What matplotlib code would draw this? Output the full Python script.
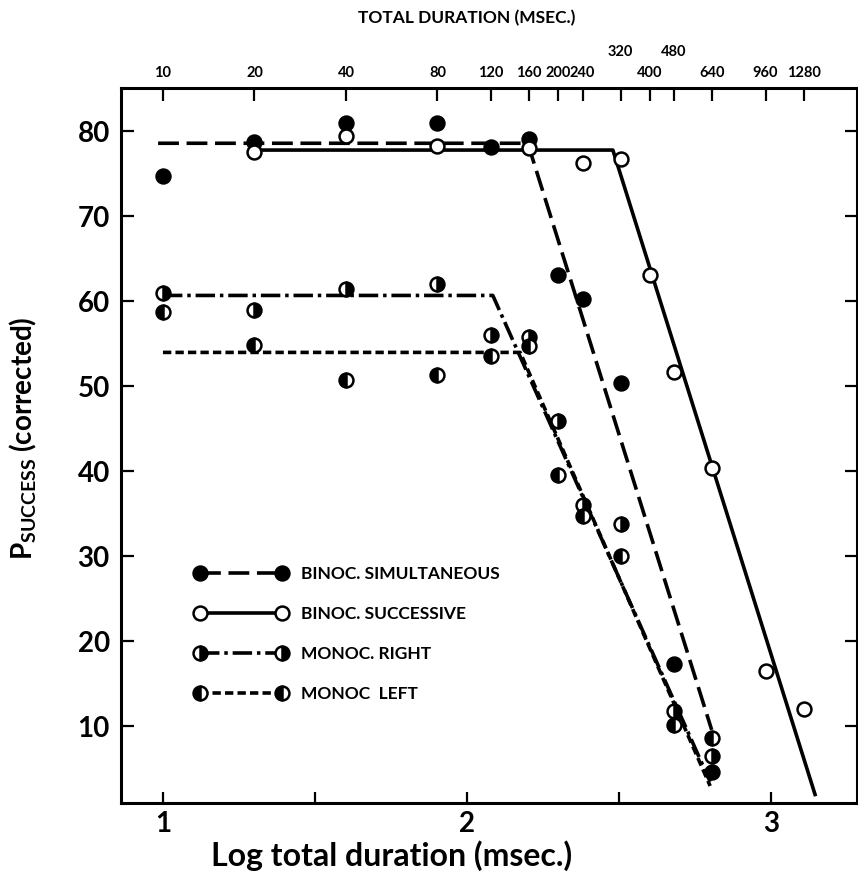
import matplotlib
matplotlib.use('Agg')
import matplotlib.pyplot as plt
from matplotlib.lines import Line2D
import numpy as np

plt.rcParams['font.family'] = ['Lato', 'DejaVu Sans']
plt.rcParams['mathtext.default'] = 'regular'
plt.rcParams['lines.scale_dashes'] = False

# durations (msec) and P success (corrected)
sim_ms = [10, 20, 40, 80, 120, 160, 200, 240, 320, 480, 640]
sim_p = [74.7, 78.8, 81.0, 81.0, 78.2, 79.1, 63.1, 60.3, 50.4, 17.3, 4.7]

succ_ms = [20, 40, 80, 160, 240, 320, 400, 480, 640, 960, 1280]
succ_p = [77.6, 79.4, 78.3, 78.0, 76.3, 76.7, 63.1, 51.7, 40.4, 16.5, 12.1]

right_ms = [10, 20, 40, 80, 120, 160, 200, 240, 320, 480, 640]
right_p = [61.0, 59.0, 61.5, 62.1, 56.0, 55.8, 45.9, 36.0, 33.8, 11.8, 6.5]

left_ms = [10, 20, 40, 80, 120, 160, 200, 240, 320, 480, 640]
left_p = [58.8, 54.9, 50.8, 51.4, 53.6, 54.7, 39.6, 34.8, 30.0, 10.2, 8.7]

# fitted lines (log duration, P)
sim_fit_x = [0.984, 2.20, 2.805]
sim_fit_y = [78.6, 78.6, 9.6]
succ_fit_x = [1.31, 2.48, 3.145]
succ_fit_y = [77.8, 77.8, 2.0]
right_fit_x = [1.0, 2.085, 2.80]
right_fit_y = [60.7, 60.7, 3.5]
left_fit_x = [1.0, 2.175, 2.80]
left_fit_y = [54.0, 54.0, 3.0]

top_ms = [10, 20, 40, 80, 120, 160, 200, 240, 320, 400, 480, 640, 960, 1280]
raised = ['320', '480']

fig = plt.figure(figsize=(8.58, 8.75), dpi=100)
ax = fig.add_axes([121/858, 1 - 803/875, 736/858, 715/875])
ax.set_xlim(0.862, 3.283)
ax.set_ylim(1.0, 85.1)

lw = 2.6
sim_ls = (0, (15, 5.5))
right_ls = (0, (14, 3.5, 2.5, 3.5))
left_ls = (0, (6, 3))
mk = dict(marker='o', ms=10, mew=1.8, mec='black')

ax.plot(sim_fit_x, sim_fit_y, color='black', lw=lw, ls=sim_ls, zorder=2)
ax.plot(succ_fit_x, succ_fit_y, color='black', lw=lw, ls='-', zorder=2)
ax.plot(right_fit_x, right_fit_y, color='black', lw=lw, ls=right_ls, zorder=2)
ax.plot(left_fit_x, left_fit_y, color='black', lw=lw, ls=left_ls, zorder=2)

ax.plot(np.log10(sim_ms), sim_p, ls='none', mfc='black', zorder=3, **mk)
ax.plot(np.log10(succ_ms), succ_p, ls='none', mfc='white', zorder=3, **mk)
ax.plot(np.log10(right_ms), right_p, ls='none', mfc='black', fillstyle='right',
        markerfacecoloralt='white', zorder=3, **mk)
ax.plot(np.log10(left_ms), left_p, ls='none', mfc='black', fillstyle='left',
        markerfacecoloralt='white', zorder=3, **mk)

handles = [
    Line2D([], [], color='black', lw=lw, ls=sim_ls, mfc='black', **mk),
    Line2D([], [], color='black', lw=lw, ls='-', mfc='white', **mk),
    Line2D([], [], color='black', lw=lw, ls=right_ls, mfc='black',
           fillstyle='right', markerfacecoloralt='white', **mk),
    Line2D([], [], color='black', lw=lw, ls=left_ls, mfc='black',
           fillstyle='left', markerfacecoloralt='white', **mk),
]
labels = ['BINOC. SIMULTANEOUS', 'BINOC. SUCCESSIVE', 'MONOC. RIGHT', 'MONOC  LEFT']
fig.legend(handles, labels, loc='upper left', bbox_to_anchor=(195/858, 1 - 566/875),
           frameon=False, numpoints=2, handlelength=5.3, handletextpad=0.8,
           labelspacing=1.38, borderpad=0, borderaxespad=0,
           prop=dict(size=12.5, weight='bold'))

for s in ax.spines.values():
    s.set_linewidth(2.2)

ax.set_xticks([1, 1.5, 2, 2.5, 3])
ax.set_xticklabels(['1', '', '2', '', '3'])
ax.set_yticks([10, 20, 30, 40, 50, 60, 70, 80])
ax.tick_params(axis='both', direction='in', width=1.6, labelsize=20)
ax.tick_params(axis='x', length=8, pad=6)
ax.tick_params(axis='y', length=9, pad=8, right=True)
for t in ax.get_xticklabels() + ax.get_yticklabels():
    t.set_fontweight('bold')

ax.set_xlabel('Log total duration (msec.)', fontsize=23, fontweight='bold')
ax.xaxis.set_label_coords((392 - 121) / 736, -0.052)
ax.set_ylabel(r'P$_{SUCCESS}$ (corrected)', fontsize=20, fontweight='bold')
ax.yaxis.set_label_coords(-0.112, 0.51)

ax2 = ax.twiny()
ax2.set_xlim(ax.get_xlim())
ax2.set_xticks(np.log10(top_ms))
ax2.set_xticklabels([str(v) for v in top_ms], fontsize=10.5, fontweight='bold')
ax2.tick_params(axis='x', direction='in', length=9.5, width=1.6, pad=6)
for tick, v in zip(ax2.xaxis.get_major_ticks(), top_ms):
    if str(v) in raised:
        tick.set_pad(21)

fig.text(467/858, 1 - 18/875, 'TOTAL DURATION (MSEC.)', ha='center', va='center',
         fontsize=12.5, fontweight='bold')

fig.savefig('out.png', dpi=100)
